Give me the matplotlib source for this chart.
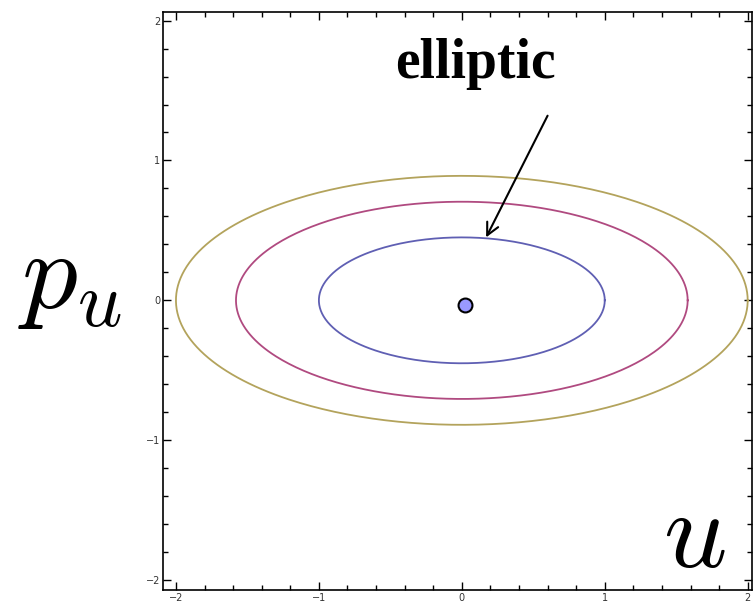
import numpy as np
import matplotlib.pyplot as plt
from matplotlib.ticker import MultipleLocator

plt.rcParams['mathtext.fontset'] = 'cm'

# contour semi-axes (u and p_u directions)
semi_u = [1.0, 1.58, 2.0]
semi_p = [0.45, 0.705, 0.89]
colors = ['#5f5fb3', '#b04a80', '#b3a35c']

# fixed point
fp_u = 0.02
fp_p = -0.03

fig = plt.figure(figsize=(7.55, 6.10), dpi=100)
ax = fig.add_axes([0.216, 0.033, 0.78, 0.947])

t = np.linspace(0, 2 * np.pi, 400)
for a, b, c in zip(semi_u, semi_p, colors):
    ax.plot(a * np.cos(t), b * np.sin(t), color=c, linewidth=1.3)

ax.plot(fp_u, fp_p, 'o', markersize=10, markerfacecolor='#9999ff',
        markeredgecolor='black', markeredgewidth=1.5)

ax.set_xlim(-2.09, 2.03)
ax.set_ylim(-2.07, 2.06)
ax.xaxis.set_major_locator(MultipleLocator(1))
ax.yaxis.set_major_locator(MultipleLocator(1))
ax.xaxis.set_minor_locator(MultipleLocator(0.2))
ax.yaxis.set_minor_locator(MultipleLocator(0.2))
ax.tick_params(which='both', direction='in', top=True, right=True,
               labelsize=7, labelcolor='#333333', pad=2)
ax.tick_params(which='major', length=6, width=1)
ax.tick_params(which='minor', length=3.5, width=1)
for s in ax.spines.values():
    s.set_linewidth(1.2)

ax.annotate('', xy=(0.17, 0.45), xytext=(0.60, 1.32),
            arrowprops=dict(arrowstyle='->', color='black', lw=1.5,
                            mutation_scale=22, shrinkA=0, shrinkB=0))
fig.text(0.630, 0.895, 'elliptic', fontsize=40, family='Liberation Serif',
         weight='bold', ha='center', va='center')

fig.text(0.093, 0.545, r'$p_u$', fontsize=80, ha='center', va='center')
fig.text(0.920, 0.12, r'$u$', fontsize=80, ha='center', va='center')

plt.savefig('out.png', dpi=100)
